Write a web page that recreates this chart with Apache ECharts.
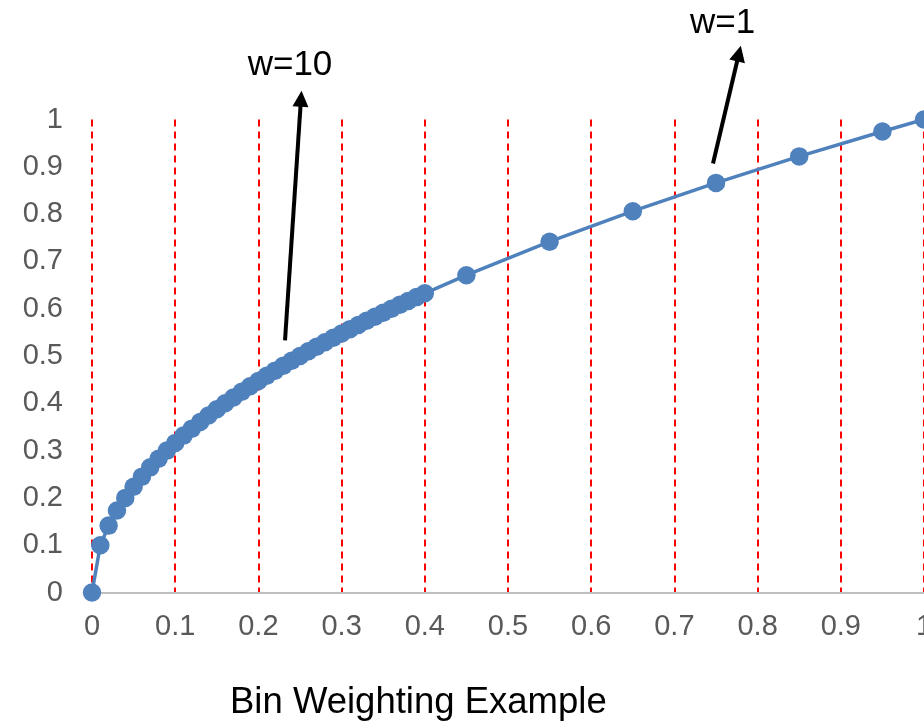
<!DOCTYPE html>
<html><head><meta charset="utf-8">
<script src="https://cdn.jsdelivr.net/npm/echarts@6/dist/echarts.min.js"></script>
<style>html,body{margin:0;padding:0;background:#fff;overflow:hidden;width:924px;height:721px}#c{width:924px;height:721px}</style>
</head><body><div id="c"></div>
<script>
const xValues = [0,0.01,0.02,0.03,0.04,0.05,0.06,0.07,0.08,0.09,0.10,0.11,0.12,0.13,0.14,0.15,0.16,0.17,0.18,0.19,0.20,0.21,0.22,0.23,0.24,0.25,0.26,0.27,0.28,0.29,0.30,0.31,0.32,0.33,0.34,0.35,0.36,0.37,0.38,0.39,0.40,0.45,0.55,0.65,0.75,0.85,0.95,1.0];
const yValues = [0,0.1,0.1414,0.1732,0.2,0.2236,0.2449,0.2646,0.2828,0.3,0.3162,0.3317,0.3464,0.3606,0.3742,0.3873,0.4,0.4123,0.4243,0.4359,0.4472,0.4583,0.469,0.4796,0.4899,0.5,0.5099,0.5196,0.5292,0.5385,0.5477,0.5568,0.5657,0.5745,0.5831,0.5916,0.6,0.6083,0.6164,0.6245,0.6325,0.6708,0.7416,0.8062,0.866,0.922,0.9747,1];
const xTickLabels = ['0','0.1','0.2','0.3','0.4','0.5','0.6','0.7','0.8','0.9','1'];
const yTickLabels = ['0','0.1','0.2','0.3','0.4','0.5','0.6','0.7','0.8','0.9','1'];
const titleText = 'Bin Weighting Example';
const annotationLabels = ['w=10', 'w=1'];
const arrowTails = [[0.232, 0.533], [0.7464, 0.907]];
const arrowHeads = [[0.2512, 1.044], [0.7776, 1.1395]];
const labelPoints = [[0.238, 1.114], [0.758, 1.203]];

const FONT = "'Liberation Sans', Arial, sans-serif";
const chart = echarts.init(document.getElementById('c'), null, {renderer: 'canvas', width: 924, height: 721});
const idx = v => Math.round(v * 10);
chart.setOption({
  animation: false,
  backgroundColor: '#ffffff',
  textStyle: {fontFamily: FONT},
  title: {
    text: titleText, left: 225, top: 679,
    textStyle: {fontSize: 36.5, fontWeight: 'normal', color: '#000000', fontFamily: FONT}
  },
  grid: {left: 92, right: 0, top: 119.5, bottom: 128.5, containLabel: false, outerBoundsMode: 'none'},
  xAxis: {
    type: 'value', min: 0, max: 1, interval: 0.1,
    axisLine: {show: true, lineStyle: {color: '#BFBFBF', width: 2}},
    axisTick: {show: false},
    axisLabel: {fontSize: 29, color: '#595959', margin: 20, fontFamily: FONT,
      formatter: v => xTickLabels[idx(v)]},
    splitLine: {show: true, lineStyle: {color: '#FF0000', width: 2, type: [7, 5]}}
  },
  yAxis: {
    type: 'value', min: 0, max: 1, interval: 0.1,
    axisLine: {show: false}, axisTick: {show: false},
    splitLine: {show: false},
    axisLabel: {fontSize: 29, color: '#595959', margin: 29, fontFamily: FONT,
      formatter: v => yTickLabels[idx(v)]}
  },
  series: [{
    type: 'line',
    data: xValues.map((x, i) => [x, yValues[i]]),
    symbol: 'circle', symbolSize: 18.5,
    lineStyle: {color: '#4F81BD', width: 3.5},
    itemStyle: {color: '#4F81BD'},
    clip: false,
    z: 3
  }]
});

const px = p => chart.convertToPixel({gridIndex: 0}, p);
const lines = arrowTails.map((t, i) => {
  const a = px(t), b = px(arrowHeads[i]);
  return [{x: a[0], y: a[1]}, {x: b[0], y: b[1]}];
});
const texts = labelPoints.map((p, i) => {
  const c = px(p);
  return {type: 'text', x: c[0], y: c[1], z: 10,
    style: {text: annotationLabels[i], fill: '#000000', font: '35px ' + FONT,
      textAlign: 'center', textVerticalAlign: 'middle'}};
});
chart.setOption({
  series: [{
    markLine: {
      silent: true, animation: false,
      symbol: ['none', 'triangle'], symbolSize: 16,
      lineStyle: {color: '#000000', width: 4, type: 'solid'},
      label: {show: false},
      data: lines
    }
  }],
  graphic: texts
});
</script>
</body></html>
